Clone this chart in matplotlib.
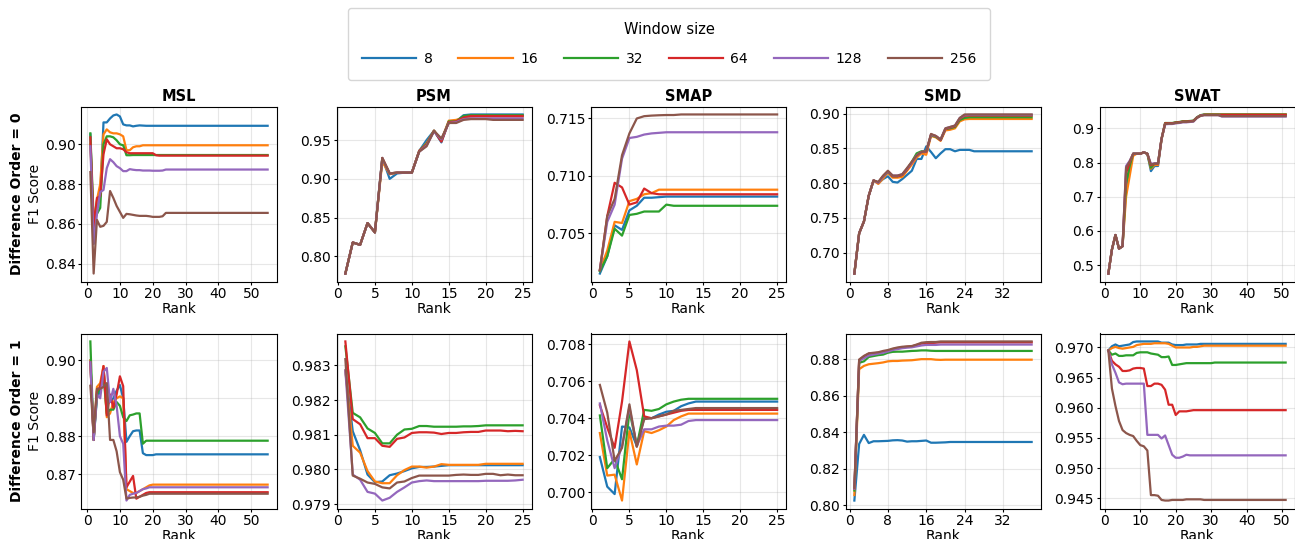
import matplotlib
matplotlib.use("Agg")
import matplotlib.pyplot as plt
from matplotlib.ticker import MultipleLocator
from matplotlib.lines import Line2D

window_sizes = ["8", "16", "32", "64", "128", "256"]
datasets = ["MSL", "PSM", "SMAP", "SMD", "SWAT"]
colors = ["#1f77b4", "#ff7f0e", "#2ca02c", "#d62728", "#9467bd", "#8c564b"]

# ---------------- Difference order 0 ----------------
msl0_8 = [0.905, 0.850, 0.868, 0.874, 0.911, 0.911, 0.913, 0.9145, 0.915, 0.914,
          0.910, 0.9095, 0.9095, 0.909, 0.9093, 0.9095, 0.9094, 0.9093, 0.9093, 0.9093,
          0.9093, 0.9093, 0.9093, 0.9093, 0.9093, 0.9093, 0.9093, 0.9093, 0.9093, 0.9093,
          0.9093, 0.9093, 0.9093, 0.9093, 0.9093, 0.9093, 0.9093, 0.9093, 0.9093, 0.9093,
          0.9093, 0.9093, 0.9093, 0.9093, 0.9093, 0.9093, 0.9093, 0.9093, 0.9093, 0.9093,
          0.9093, 0.9093, 0.9093, 0.9093, 0.9093]
msl0_16 = [0.900, 0.860, 0.872, 0.880, 0.905, 0.9075, 0.906, 0.9055, 0.9055, 0.905,
           0.904, 0.897, 0.897, 0.8985, 0.899, 0.899, 0.8995, 0.8995, 0.8995, 0.8995,
           0.8995, 0.8995, 0.8995, 0.8995, 0.8995, 0.8995, 0.8995, 0.8995, 0.8995, 0.8995,
           0.8995, 0.8995, 0.8995, 0.8995, 0.8995, 0.8995, 0.8995, 0.8995, 0.8995, 0.8995,
           0.8995, 0.8995, 0.8995, 0.8995, 0.8995, 0.8995, 0.8995, 0.8995, 0.8995, 0.8995,
           0.8995, 0.8995, 0.8995, 0.8995, 0.8995]
msl0_32 = [0.9055, 0.862, 0.865, 0.868, 0.900, 0.904, 0.904, 0.9035, 0.902, 0.900,
           0.8995, 0.8945, 0.8945, 0.8946, 0.8946, 0.8946, 0.8946, 0.8946, 0.8946, 0.8946,
           0.8946, 0.8946, 0.8946, 0.8946, 0.8946, 0.8946, 0.8946, 0.8946, 0.8946, 0.8946,
           0.8946, 0.8946, 0.8946, 0.8946, 0.8946, 0.8946, 0.8946, 0.8946, 0.8946, 0.8946,
           0.8946, 0.8946, 0.8946, 0.8946, 0.8946, 0.8946, 0.8946, 0.8946, 0.8946, 0.8946,
           0.8946, 0.8946, 0.8946, 0.8946, 0.8946]
msl0_64 = [0.9035, 0.858, 0.873, 0.874, 0.895, 0.9025, 0.900, 0.899, 0.898, 0.898,
           0.8975, 0.896, 0.8955, 0.8955, 0.8955, 0.8955, 0.8955, 0.8955, 0.8955, 0.8955,
           0.8945, 0.8943, 0.8943, 0.8943, 0.8943, 0.8943, 0.8943, 0.8943, 0.8943, 0.8943,
           0.8943, 0.8943, 0.8943, 0.8943, 0.8943, 0.8943, 0.8943, 0.8943, 0.8943, 0.8943,
           0.8943, 0.8943, 0.8943, 0.8943, 0.8943, 0.8943, 0.8943, 0.8943, 0.8943, 0.8943,
           0.8943, 0.8943, 0.8943, 0.8943, 0.8943]
msl0_128 = [0.899, 0.850, 0.865, 0.876, 0.877, 0.888, 0.8925, 0.891, 0.889, 0.888,
            0.8865, 0.8865, 0.8875, 0.8872, 0.887, 0.887, 0.8868, 0.8868, 0.8868, 0.8867,
            0.8867, 0.8867, 0.8868, 0.8873, 0.8873, 0.8873, 0.8873, 0.8873, 0.8873, 0.8873,
            0.8873, 0.8873, 0.8873, 0.8873, 0.8873, 0.8873, 0.8873, 0.8873, 0.8873, 0.8873,
            0.8873, 0.8873, 0.8873, 0.8873, 0.8873, 0.8873, 0.8873, 0.8873, 0.8873, 0.8873,
            0.8873, 0.8873, 0.8873, 0.8873, 0.8873]
msl0_256 = [0.886, 0.835, 0.862, 0.8585, 0.859, 0.861, 0.8765, 0.873, 0.869, 0.866,
            0.863, 0.865, 0.8648, 0.8645, 0.8642, 0.864, 0.864, 0.864, 0.8638, 0.8635,
            0.8635, 0.8635, 0.8638, 0.8655, 0.8655, 0.8655, 0.8655, 0.8655, 0.8655, 0.8655,
            0.8655, 0.8655, 0.8655, 0.8655, 0.8655, 0.8655, 0.8655, 0.8655, 0.8655, 0.8655,
            0.8655, 0.8655, 0.8655, 0.8655, 0.8655, 0.8655, 0.8655, 0.8655, 0.8655, 0.8655,
            0.8655, 0.8655, 0.8655, 0.8655, 0.8655]

psm0_8 = [0.778, 0.818, 0.815, 0.843, 0.831, 0.927, 0.900, 0.907, 0.908, 0.908,
          0.936, 0.950, 0.962, 0.947, 0.974, 0.974, 0.982, 0.983, 0.983, 0.983,
          0.983, 0.983, 0.983, 0.983, 0.983]
psm0_16 = [0.778, 0.818, 0.815, 0.843, 0.831, 0.922, 0.906, 0.908, 0.908, 0.908,
           0.936, 0.946, 0.962, 0.950, 0.975, 0.976, 0.979, 0.980, 0.9805, 0.9805,
           0.9805, 0.9805, 0.9805, 0.9805, 0.9805]
psm0_32 = [0.778, 0.818, 0.815, 0.843, 0.831, 0.926, 0.907, 0.908, 0.908, 0.908,
           0.936, 0.945, 0.962, 0.949, 0.974, 0.974, 0.981, 0.982, 0.982, 0.982,
           0.982, 0.982, 0.982, 0.982, 0.982]
psm0_64 = [0.778, 0.818, 0.815, 0.843, 0.831, 0.927, 0.907, 0.908, 0.908, 0.908,
           0.936, 0.944, 0.962, 0.948, 0.973, 0.974, 0.979, 0.981, 0.981, 0.981,
           0.981, 0.981, 0.981, 0.981, 0.981]
psm0_128 = [0.778, 0.818, 0.815, 0.843, 0.831, 0.926, 0.907, 0.908, 0.908, 0.908,
            0.935, 0.943, 0.961, 0.951, 0.972, 0.973, 0.977, 0.978, 0.978, 0.978,
            0.978, 0.978, 0.978, 0.978, 0.978]
psm0_256 = [0.778, 0.818, 0.815, 0.843, 0.831, 0.927, 0.907, 0.908, 0.908, 0.908,
            0.935, 0.942, 0.962, 0.952, 0.972, 0.972, 0.976, 0.977, 0.977, 0.977,
            0.976, 0.976, 0.976, 0.976, 0.976]

smap0_8 = [0.7015, 0.7030, 0.7057, 0.7053, 0.7070, 0.7074, 0.7081, 0.7081, 0.70815, 0.7082,
           0.7082, 0.7082, 0.7082, 0.7082, 0.7082, 0.7082, 0.7082, 0.7082, 0.7082, 0.7082,
           0.7082, 0.7082, 0.7082, 0.7082, 0.7082]
smap0_16 = [0.7018, 0.7035, 0.7060, 0.7059, 0.7078, 0.7080, 0.7084, 0.7085, 0.7088, 0.7088,
            0.7088, 0.7088, 0.7088, 0.7088, 0.7088, 0.7088, 0.7088, 0.7088, 0.7088, 0.7088,
            0.7088, 0.7088, 0.7088, 0.7088, 0.7088]
smap0_32 = [0.7017, 0.7030, 0.7054, 0.7048, 0.7066, 0.7067, 0.7069, 0.7069, 0.7069, 0.7075,
            0.7074, 0.7074, 0.7074, 0.7074, 0.7074, 0.7074, 0.7074, 0.7074, 0.7074, 0.7074,
            0.7074, 0.7074, 0.7074, 0.7074, 0.7074]
smap0_64 = [0.7018, 0.7065, 0.7094, 0.7090, 0.7075, 0.7077, 0.7089, 0.7085, 0.7084, 0.7084,
            0.7084, 0.7084, 0.7084, 0.7084, 0.7084, 0.7084, 0.7084, 0.7084, 0.7084, 0.7084,
            0.7084, 0.7084, 0.7084, 0.7084, 0.7084]
smap0_128 = [0.7018, 0.7060, 0.7075, 0.7115, 0.7133, 0.7134, 0.7136, 0.7137, 0.71375, 0.7138,
             0.7138, 0.7138, 0.7138, 0.7138, 0.7138, 0.7138, 0.7138, 0.7138, 0.7138, 0.7138,
             0.7138, 0.7138, 0.7138, 0.7138, 0.7138]
smap0_256 = [0.7018, 0.7065, 0.7080, 0.7118, 0.7137, 0.7150, 0.7152, 0.71525, 0.71528, 0.7153,
             0.7153, 0.71535, 0.71535, 0.71535, 0.71535, 0.71535, 0.71535, 0.71535, 0.71535, 0.71535,
             0.71535, 0.71535, 0.71535, 0.71535, 0.71535]

smd0_8 = [0.670, 0.728, 0.745, 0.782, 0.804, 0.800, 0.806, 0.810, 0.802, 0.801,
          0.806, 0.812, 0.818, 0.835, 0.835, 0.853, 0.845, 0.836, 0.843, 0.849,
          0.849, 0.846, 0.848, 0.848, 0.848, 0.846, 0.846, 0.846, 0.846, 0.846,
          0.846, 0.846, 0.846, 0.846, 0.846, 0.846, 0.846, 0.846]
smd0_16 = [0.670, 0.728, 0.745, 0.782, 0.804, 0.799, 0.807, 0.815, 0.808, 0.808,
           0.809, 0.818, 0.827, 0.837, 0.843, 0.841, 0.868, 0.866, 0.861, 0.876,
           0.877, 0.879, 0.889, 0.892, 0.8925, 0.8925, 0.8925, 0.8925, 0.8925, 0.8925,
           0.8925, 0.8925, 0.8925, 0.8925, 0.8925, 0.8925, 0.8925, 0.8925]
smd0_32 = [0.670, 0.728, 0.745, 0.782, 0.804, 0.801, 0.810, 0.816, 0.810, 0.810,
           0.812, 0.820, 0.831, 0.843, 0.846, 0.846, 0.869, 0.867, 0.862, 0.878,
           0.879, 0.881, 0.891, 0.894, 0.895, 0.895, 0.895, 0.895, 0.895, 0.895,
           0.895, 0.895, 0.895, 0.895, 0.895, 0.895, 0.895, 0.895]
smd0_64 = [0.670, 0.728, 0.745, 0.782, 0.804, 0.801, 0.810, 0.817, 0.810, 0.810,
           0.812, 0.820, 0.830, 0.840, 0.845, 0.845, 0.870, 0.868, 0.862, 0.878,
           0.880, 0.882, 0.893, 0.897, 0.8975, 0.8975, 0.8975, 0.8975, 0.8975, 0.8975,
           0.8975, 0.8975, 0.8975, 0.8975, 0.8975, 0.8975, 0.8975, 0.8975]
smd0_128 = [0.670, 0.728, 0.745, 0.782, 0.804, 0.801, 0.810, 0.817, 0.811, 0.811,
            0.813, 0.821, 0.830, 0.840, 0.845, 0.846, 0.870, 0.868, 0.863, 0.879,
            0.881, 0.883, 0.894, 0.898, 0.8985, 0.8985, 0.8985, 0.8985, 0.8985, 0.8985,
            0.8985, 0.8985, 0.8985, 0.8985, 0.8985, 0.8985, 0.8985, 0.8985]
smd0_256 = [0.670, 0.728, 0.745, 0.782, 0.804, 0.802, 0.811, 0.818, 0.811, 0.811,
            0.813, 0.822, 0.831, 0.840, 0.845, 0.846, 0.871, 0.868, 0.863, 0.879,
            0.881, 0.883, 0.894, 0.899, 0.899, 0.899, 0.899, 0.899, 0.899, 0.899,
            0.899, 0.899, 0.899, 0.899, 0.899, 0.899, 0.899, 0.899]

swat0_8 = [0.475, 0.545, 0.588, 0.548, 0.555, 0.720, 0.780, 0.826, 0.826, 0.826,
           0.830, 0.826, 0.775, 0.790, 0.790, 0.868, 0.914, 0.915, 0.915, 0.917,
           0.918, 0.920, 0.920, 0.921, 0.922, 0.932, 0.938, 0.940, 0.940, 0.940,
           0.940, 0.940, 0.938, 0.938, 0.938, 0.938, 0.938, 0.938, 0.938, 0.938,
           0.938, 0.938, 0.938, 0.938, 0.938, 0.938, 0.938, 0.938, 0.938, 0.938,
           0.938]
swat0_16 = [0.475, 0.545, 0.588, 0.548, 0.555, 0.700, 0.760, 0.820, 0.826, 0.826,
            0.830, 0.826, 0.782, 0.793, 0.793, 0.868, 0.914, 0.915, 0.915, 0.917,
            0.918, 0.920, 0.920, 0.921, 0.922, 0.932, 0.938, 0.940, 0.941, 0.941,
            0.941, 0.941, 0.941, 0.941, 0.941, 0.941, 0.941, 0.941, 0.941, 0.941,
            0.941, 0.941, 0.941, 0.941, 0.941, 0.941, 0.941, 0.941, 0.941, 0.941,
            0.941]
swat0_32 = [0.475, 0.545, 0.588, 0.548, 0.555, 0.740, 0.790, 0.826, 0.826, 0.826,
            0.830, 0.826, 0.785, 0.797, 0.798, 0.870, 0.916, 0.916, 0.916, 0.918,
            0.919, 0.921, 0.921, 0.922, 0.923, 0.933, 0.939, 0.941, 0.941, 0.941,
            0.941, 0.941, 0.941, 0.941, 0.941, 0.941, 0.941, 0.941, 0.941, 0.941,
            0.941, 0.941, 0.941, 0.941, 0.941, 0.941, 0.941, 0.941, 0.941, 0.941,
            0.941]
swat0_64 = [0.475, 0.545, 0.588, 0.548, 0.555, 0.770, 0.800, 0.826, 0.826, 0.826,
            0.830, 0.826, 0.792, 0.796, 0.797, 0.870, 0.915, 0.915, 0.915, 0.917,
            0.918, 0.920, 0.920, 0.921, 0.922, 0.932, 0.938, 0.940, 0.940, 0.940,
            0.940, 0.940, 0.940, 0.940, 0.940, 0.940, 0.940, 0.940, 0.940, 0.940,
            0.940, 0.940, 0.940, 0.940, 0.940, 0.940, 0.940, 0.940, 0.940, 0.940,
            0.940]
swat0_128 = [0.475, 0.545, 0.588, 0.548, 0.555, 0.790, 0.805, 0.826, 0.826, 0.826,
             0.830, 0.826, 0.796, 0.798, 0.798, 0.870, 0.912, 0.913, 0.913, 0.915,
             0.916, 0.918, 0.918, 0.919, 0.920, 0.931, 0.937, 0.939, 0.939, 0.939,
             0.939, 0.939, 0.935, 0.935, 0.935, 0.935, 0.935, 0.935, 0.935, 0.935,
             0.935, 0.935, 0.935, 0.935, 0.935, 0.935, 0.935, 0.935, 0.935, 0.935,
             0.935]
swat0_256 = [0.475, 0.545, 0.588, 0.548, 0.555, 0.785, 0.803, 0.826, 0.826, 0.826,
             0.830, 0.826, 0.794, 0.797, 0.797, 0.870, 0.913, 0.914, 0.914, 0.916,
             0.917, 0.919, 0.919, 0.920, 0.921, 0.931, 0.937, 0.939, 0.939, 0.939,
             0.939, 0.939, 0.936, 0.936, 0.936, 0.936, 0.936, 0.936, 0.936, 0.936,
             0.936, 0.936, 0.936, 0.936, 0.936, 0.936, 0.936, 0.936, 0.936, 0.936,
             0.936]

# ---------------- Difference order 1 ----------------
msl1_8 = [0.900, 0.879, 0.890, 0.892, 0.8975, 0.889, 0.889, 0.890, 0.892, 0.8935,
          0.890, 0.8785, 0.880, 0.8813, 0.8815, 0.8815, 0.8755, 0.875, 0.875, 0.875,
          0.8752, 0.8752, 0.8752, 0.8752, 0.8752, 0.8752, 0.8752, 0.8752, 0.8752, 0.8752,
          0.8752, 0.8752, 0.8752, 0.8752, 0.8752, 0.8752, 0.8752, 0.8752, 0.8752, 0.8752,
          0.8752, 0.8752, 0.8752, 0.8752, 0.8752, 0.8752, 0.8752, 0.8752, 0.8752, 0.8752,
          0.8752, 0.8752, 0.8752, 0.8752, 0.8752]
msl1_16 = [0.900, 0.879, 0.893, 0.894, 0.8985, 0.885, 0.886, 0.889, 0.890, 0.8905,
           0.890, 0.866, 0.8655, 0.865, 0.865, 0.8655, 0.866, 0.8665, 0.867, 0.8672,
           0.8672, 0.8672, 0.8672, 0.8672, 0.8672, 0.8672, 0.8672, 0.8672, 0.8672, 0.8672,
           0.8672, 0.8672, 0.8672, 0.8672, 0.8672, 0.8672, 0.8672, 0.8672, 0.8672, 0.8672,
           0.8672, 0.8672, 0.8672, 0.8672, 0.8672, 0.8672, 0.8672, 0.8672, 0.8672, 0.8672,
           0.8672, 0.8672, 0.8672, 0.8672, 0.8672]
msl1_32 = [0.905, 0.879, 0.891, 0.893, 0.896, 0.886, 0.887, 0.887, 0.889, 0.888,
           0.885, 0.884, 0.8855, 0.8857, 0.886, 0.886, 0.878, 0.8788, 0.8788, 0.8788,
           0.8788, 0.8788, 0.8788, 0.8788, 0.8788, 0.8788, 0.8788, 0.8788, 0.8788, 0.8788,
           0.8788, 0.8788, 0.8788, 0.8788, 0.8788, 0.8788, 0.8788, 0.8788, 0.8788, 0.8788,
           0.8788, 0.8788, 0.8788, 0.8788, 0.8788, 0.8788, 0.8788, 0.8788, 0.8788, 0.8788,
           0.8788, 0.8788, 0.8788, 0.8788, 0.8788]
msl1_64 = [0.8995, 0.879, 0.892, 0.893, 0.8985, 0.8855, 0.891, 0.8875, 0.891, 0.8958,
           0.8932, 0.8665, 0.868, 0.8695, 0.8635, 0.864, 0.8645, 0.865, 0.8652, 0.8652,
           0.8652, 0.8652, 0.8652, 0.8652, 0.8652, 0.8652, 0.8652, 0.8652, 0.8652, 0.8652,
           0.8652, 0.8652, 0.8652, 0.8652, 0.8652, 0.8652, 0.8652, 0.8652, 0.8652, 0.8652,
           0.8652, 0.8652, 0.8652, 0.8652, 0.8652, 0.8652, 0.8652, 0.8652, 0.8652, 0.8652,
           0.8652, 0.8652, 0.8652, 0.8652, 0.8652]
msl1_128 = [0.8995, 0.879, 0.891, 0.890, 0.897, 0.898, 0.889, 0.8925, 0.888, 0.880,
            0.878, 0.863, 0.8645, 0.8648, 0.865, 0.8655, 0.866, 0.8662, 0.8665, 0.8665,
            0.8665, 0.8665, 0.8665, 0.8665, 0.8665, 0.8665, 0.8665, 0.8665, 0.8665, 0.8665,
            0.8665, 0.8665, 0.8665, 0.8665, 0.8665, 0.8665, 0.8665, 0.8665, 0.8665, 0.8665,
            0.8665, 0.8665, 0.8665, 0.8665, 0.8665, 0.8665, 0.8665, 0.8665, 0.8665, 0.8665,
            0.8665, 0.8665, 0.8665, 0.8665, 0.8665]
msl1_256 = [0.8933, 0.881, 0.8925, 0.8925, 0.893, 0.894, 0.879, 0.879, 0.876, 0.8705,
            0.8685, 0.8635, 0.8637, 0.8638, 0.8638, 0.864, 0.8643, 0.8645, 0.8648, 0.8648,
            0.8648, 0.8648, 0.8648, 0.8648, 0.8648, 0.8648, 0.8648, 0.8648, 0.8648, 0.8648,
            0.8648, 0.8648, 0.8648, 0.8648, 0.8648, 0.8648, 0.8648, 0.8648, 0.8648, 0.8648,
            0.8648, 0.8648, 0.8648, 0.8648, 0.8648, 0.8648, 0.8648, 0.8648, 0.8648, 0.8648,
            0.8648, 0.8648, 0.8648, 0.8648, 0.8648]

psm1_8 = [0.98285, 0.98110, 0.98055, 0.97985, 0.97963, 0.97965, 0.97983, 0.97988, 0.97995, 0.98003,
          0.98007, 0.98007, 0.98008, 0.98010, 0.98012, 0.98012, 0.98012, 0.98012, 0.98012, 0.98012,
          0.98012, 0.98012, 0.98012, 0.98012, 0.98012]
psm1_16 = [0.98285, 0.98068, 0.98048, 0.97995, 0.97965, 0.97960, 0.97960, 0.97983, 0.97998, 0.98008,
           0.98008, 0.98005, 0.98008, 0.98015, 0.98013, 0.98013, 0.98013, 0.98013, 0.98013, 0.98016,
           0.98016, 0.98016, 0.98016, 0.98016, 0.98016]
psm1_32 = [0.98355, 0.98163, 0.98150, 0.98118, 0.98105, 0.98075, 0.98075, 0.98100, 0.98115, 0.98117,
           0.98125, 0.98125, 0.98123, 0.98123, 0.98123, 0.98123, 0.98124, 0.98124, 0.98125, 0.98127,
           0.98127, 0.98127, 0.98127, 0.98127, 0.98127]
psm1_64 = [0.98369, 0.98145, 0.98130, 0.98090, 0.98090, 0.98068, 0.98065, 0.98088, 0.98092, 0.98105,
           0.98107, 0.98107, 0.98106, 0.98102, 0.98105, 0.98105, 0.98107, 0.98108, 0.98108, 0.98112,
           0.98112, 0.98112, 0.98110, 0.98111, 0.98110]
psm1_128 = [0.98285, 0.97985, 0.97970, 0.97935, 0.97930, 0.97910, 0.97918, 0.97935, 0.97948, 0.97962,
            0.97966, 0.97968, 0.97966, 0.97966, 0.97966, 0.97966, 0.97966, 0.97966, 0.97966, 0.97967,
            0.97967, 0.97967, 0.97967, 0.97968, 0.97970]
psm1_256 = [0.98318, 0.97982, 0.97973, 0.97962, 0.97958, 0.97948, 0.97945, 0.97962, 0.97965, 0.97975,
            0.97982, 0.97982, 0.97982, 0.97982, 0.97982, 0.97984, 0.97985, 0.97984, 0.97984, 0.97987,
            0.97987, 0.97983, 0.97985, 0.97983, 0.97983]

smap1_8 = [0.7019, 0.7003, 0.6999, 0.70355, 0.7035, 0.7025, 0.7040, 0.7040, 0.7042, 0.70435,
           0.7044, 0.70465, 0.7048, 0.7049, 0.7049, 0.7049, 0.7049, 0.7049, 0.7049, 0.7049,
           0.7049, 0.7049, 0.7049, 0.7049, 0.7049]
smap1_16 = [0.7032, 0.7009, 0.70095, 0.69955, 0.7033, 0.7015, 0.7033, 0.7032, 0.70335, 0.70355,
            0.7039, 0.7041, 0.70425, 0.70425, 0.70425, 0.70425, 0.70425, 0.70425, 0.70425, 0.70425,
            0.70425, 0.70425, 0.70425, 0.70425, 0.70425]
smap1_32 = [0.70415, 0.7013, 0.7018, 0.7007, 0.7044, 0.7025, 0.70445, 0.7044, 0.7045, 0.70475,
            0.7049, 0.7050, 0.70505, 0.70505, 0.70505, 0.70505, 0.70505, 0.70505, 0.70505, 0.70505,
            0.70505, 0.70505, 0.70505, 0.70505, 0.70505]
smap1_64 = [0.7047, 0.7035, 0.7024, 0.7049, 0.70815, 0.7066, 0.7041, 0.7040, 0.7041, 0.7042,
            0.7043, 0.7044, 0.70445, 0.70445, 0.70445, 0.70445, 0.70445, 0.70445, 0.70445, 0.70445,
            0.70445, 0.70445, 0.70445, 0.70445, 0.70445]
smap1_128 = [0.7048, 0.7028, 0.7013, 0.7025, 0.7046, 0.7025, 0.7034, 0.7034, 0.70355, 0.7036,
             0.7036, 0.70365, 0.70385, 0.7039, 0.7039, 0.7039, 0.7039, 0.7039, 0.7039, 0.7039,
             0.7039, 0.7039, 0.7039, 0.7039, 0.7039]
smap1_256 = [0.7058, 0.7043, 0.7017, 0.7024, 0.70475, 0.70245, 0.70395, 0.7040, 0.7041, 0.7042,
             0.7044, 0.70445, 0.7045, 0.70455, 0.70455, 0.70455, 0.70455, 0.70455, 0.70455, 0.70455,
             0.70455, 0.70455, 0.70455, 0.70455, 0.70455]

smd1_8 = [0.8025, 0.8335, 0.8385, 0.8340, 0.8350, 0.8350, 0.8351, 0.8352, 0.8355, 0.8356,
          0.8354, 0.8348, 0.8350, 0.8350, 0.8352, 0.8354, 0.8342, 0.8342, 0.8343, 0.8344,
          0.8346, 0.8346, 0.8346, 0.8346, 0.8346, 0.8346, 0.8346, 0.8346, 0.8346, 0.8346,
          0.8346, 0.8346, 0.8346, 0.8346, 0.8346, 0.8346, 0.8346, 0.8346]
smd1_16 = [0.8055, 0.8745, 0.8763, 0.8772, 0.8775, 0.8778, 0.8782, 0.8788, 0.8790, 0.8790,
           0.8792, 0.8793, 0.8794, 0.8797, 0.8800, 0.8800, 0.8800, 0.8797, 0.8796, 0.8797,
           0.8797, 0.8797, 0.8797, 0.8797, 0.8797, 0.8797, 0.8797, 0.8797, 0.8797, 0.8797,
           0.8797, 0.8797, 0.8797, 0.8797, 0.8797, 0.8797, 0.8797, 0.8797]
smd1_32 = [0.8080, 0.8780, 0.8788, 0.8812, 0.8817, 0.8822, 0.8825, 0.8835, 0.8840, 0.8841,
           0.8841, 0.8843, 0.8845, 0.8846, 0.8848, 0.8848, 0.8846, 0.8845, 0.8845, 0.8845,
           0.8845, 0.8845, 0.8845, 0.8845, 0.8845, 0.8845, 0.8845, 0.8845, 0.8845, 0.8845,
           0.8845, 0.8845, 0.8845, 0.8845, 0.8845, 0.8845, 0.8845, 0.8845]
smd1_64 = [0.8090, 0.8795, 0.8815, 0.8830, 0.8832, 0.8835, 0.8840, 0.8845, 0.8855, 0.8860,
           0.8865, 0.8868, 0.8870, 0.8878, 0.8885, 0.8888, 0.8888, 0.8890, 0.8892, 0.8892,
           0.8892, 0.8892, 0.8892, 0.8892, 0.8892, 0.8892, 0.8892, 0.8892, 0.8892, 0.8892,
           0.8892, 0.8892, 0.8892, 0.8892, 0.8892, 0.8892, 0.8892, 0.8892]
smd1_128 = [0.8090, 0.8790, 0.8805, 0.8820, 0.8825, 0.8830, 0.8835, 0.8842, 0.8850, 0.8855,
            0.8860, 0.8863, 0.8865, 0.8870, 0.8875, 0.8878, 0.8878, 0.8878, 0.8880, 0.8880,
            0.8880, 0.8880, 0.8880, 0.8880, 0.8880, 0.8880, 0.8880, 0.8880, 0.8880, 0.8880,
            0.8880, 0.8880, 0.8880, 0.8880, 0.8880, 0.8880, 0.8880, 0.8880]
smd1_256 = [0.8095, 0.8798, 0.8818, 0.8832, 0.8835, 0.8838, 0.8845, 0.8850, 0.8858, 0.8864,
            0.8868, 0.8870, 0.8872, 0.8880, 0.8890, 0.8893, 0.8894, 0.8894, 0.8897, 0.8897,
            0.8897, 0.8897, 0.8897, 0.8897, 0.8897, 0.8897, 0.8897, 0.8897, 0.8897, 0.8897,
            0.8897, 0.8897, 0.8897, 0.8897, 0.8897, 0.8897, 0.8897, 0.8897]

swat1_8 = [0.9695, 0.9702, 0.9705, 0.9702, 0.9703, 0.9704, 0.9705, 0.9709, 0.9710, 0.9710,
           0.9710, 0.9710, 0.9710, 0.9710, 0.9710, 0.9708, 0.9708, 0.9708, 0.9705, 0.9704,
           0.9704, 0.9704, 0.9705, 0.9705, 0.9705, 0.9705, 0.9706, 0.9706, 0.9706, 0.9706,
           0.9706, 0.9706, 0.9706, 0.9706, 0.9706, 0.9706, 0.9706, 0.9706, 0.9706, 0.9706,
           0.9706, 0.9706, 0.9706, 0.9706, 0.9706, 0.9706, 0.9706, 0.9706, 0.9706, 0.9706,
           0.9706]
swat1_16 = [0.9695, 0.9699, 0.9701, 0.9699, 0.9698, 0.9699, 0.9700, 0.9701, 0.9704, 0.9705,
            0.9706, 0.9706, 0.9706, 0.9707, 0.9707, 0.9707, 0.9707, 0.9706, 0.9703, 0.9700,
            0.9700, 0.9700, 0.9700, 0.9700, 0.9701, 0.9701, 0.9702, 0.9703, 0.9703, 0.9703,
            0.9703, 0.9703, 0.9703, 0.9703, 0.9703, 0.9703, 0.9703, 0.9703, 0.9703, 0.9703,
            0.9703, 0.9703, 0.9703, 0.9703, 0.9703, 0.9703, 0.9703, 0.9703, 0.9703, 0.9703,
            0.9703]
swat1_32 = [0.9695, 0.9688, 0.9690, 0.9686, 0.9686, 0.9687, 0.9687, 0.9687, 0.9691, 0.9692,
            0.9692, 0.9692, 0.9690, 0.9689, 0.9688, 0.9684, 0.9684, 0.9685, 0.9671, 0.9671,
            0.9672, 0.9673, 0.9674, 0.9674, 0.9674, 0.9674, 0.9674, 0.9674, 0.9674, 0.9674,
            0.9675, 0.9675, 0.9675, 0.9675, 0.9675, 0.9675, 0.9675, 0.9675, 0.9675, 0.9675,
            0.9675, 0.9675, 0.9675, 0.9675, 0.9675, 0.9675, 0.9675, 0.9675, 0.9675, 0.9675,
            0.9675]
swat1_64 = [0.9695, 0.9678, 0.9672, 0.9668, 0.9661, 0.9661, 0.9662, 0.9665, 0.9666, 0.9666,
            0.9665, 0.9636, 0.9636, 0.9640, 0.9640, 0.9638, 0.9630, 0.9605, 0.9605, 0.9588,
            0.9594, 0.9594, 0.9594, 0.9595, 0.9596, 0.9596, 0.9596, 0.9596, 0.9596, 0.9596,
            0.9596, 0.9596, 0.9596, 0.9596, 0.9596, 0.9596, 0.9596, 0.9596, 0.9596, 0.9596,
            0.9596, 0.9596, 0.9596, 0.9596, 0.9596, 0.9596, 0.9596, 0.9596, 0.9596, 0.9596,
            0.9596]
swat1_128 = [0.9695, 0.9672, 0.9658, 0.9642, 0.9639, 0.9640, 0.9640, 0.9640, 0.9640, 0.9640,
             0.9640, 0.9555, 0.9555, 0.9555, 0.9555, 0.9549, 0.9554, 0.9538, 0.9522, 0.9517,
             0.9517, 0.9519, 0.9522, 0.9521, 0.9521, 0.9521, 0.9521, 0.9521, 0.9521, 0.9521,
             0.9521, 0.9521, 0.9521, 0.9521, 0.9521, 0.9521, 0.9521, 0.9521, 0.9521, 0.9521,
             0.9521, 0.9521, 0.9521, 0.9521, 0.9521, 0.9521, 0.9521, 0.9521, 0.9521, 0.9521,
             0.9521]
swat1_256 = [0.9695, 0.9632, 0.9603, 0.9578, 0.9563, 0.9558, 0.9555, 0.9553, 0.9545, 0.9538,
             0.9536, 0.9529, 0.9455, 0.9455, 0.9454, 0.9447, 0.9446, 0.9446, 0.9447, 0.9447,
             0.9447, 0.9447, 0.9448, 0.9448, 0.9448, 0.9448, 0.9448, 0.9447, 0.9447, 0.9447,
             0.9447, 0.9447, 0.9447, 0.9447, 0.9447, 0.9447, 0.9447, 0.9447, 0.9447, 0.9447,
             0.9447, 0.9447, 0.9447, 0.9447, 0.9447, 0.9447, 0.9447, 0.9447, 0.9447, 0.9447,
             0.9447]

series = {
    (0, "MSL"): [msl0_8, msl0_16, msl0_32, msl0_64, msl0_128, msl0_256],
    (0, "PSM"): [psm0_8, psm0_16, psm0_32, psm0_64, psm0_128, psm0_256],
    (0, "SMAP"): [smap0_8, smap0_16, smap0_32, smap0_64, smap0_128, smap0_256],
    (0, "SMD"): [smd0_8, smd0_16, smd0_32, smd0_64, smd0_128, smd0_256],
    (0, "SWAT"): [swat0_8, swat0_16, swat0_32, swat0_64, swat0_128, swat0_256],
    (1, "MSL"): [msl1_8, msl1_16, msl1_32, msl1_64, msl1_128, msl1_256],
    (1, "PSM"): [psm1_8, psm1_16, psm1_32, psm1_64, psm1_128, psm1_256],
    (1, "SMAP"): [smap1_8, smap1_16, smap1_32, smap1_64, smap1_128, smap1_256],
    (1, "SMD"): [smd1_8, smd1_16, smd1_32, smd1_64, smd1_128, smd1_256],
    (1, "SWAT"): [swat1_8, swat1_16, swat1_32, swat1_64, swat1_128, swat1_256],
}

x_steps = {"MSL": 10, "PSM": 5, "SMAP": 5, "SMD": 8, "SWAT": 10}
y_steps = {
    (0, "MSL"): 0.02, (0, "PSM"): 0.05, (0, "SMAP"): 0.005, (0, "SMD"): 0.05, (0, "SWAT"): 0.1,
    (1, "MSL"): 0.01, (1, "PSM"): 0.001, (1, "SMAP"): 0.002, (1, "SMD"): 0.02, (1, "SWAT"): 0.005,
}

plt.rcParams["font.family"] = ["DejaVu Sans"]
plt.rcParams["axes.formatter.useoffset"] = False

W, H = 1295, 539
fig = plt.figure(figsize=(W / 100, H / 100), dpi=100)

lefts = [81.5, 336.5, 591, 845.5, 1099.5]
tops = [106.5, 333.5]
aw, ah = 195, 175

for r in range(2):
    for c, name in enumerate(datasets):
        l, t = lefts[c], tops[r]
        ax = fig.add_axes([l / W, 1 - (t + ah) / H, aw / W, ah / H])
        for ys, col, lab in zip(series[(r, name)], colors, window_sizes):
            ax.plot(range(1, len(ys) + 1), ys, color=col, lw=1.6, label=lab)
        ax.xaxis.set_major_locator(MultipleLocator(x_steps[name]))
        ax.yaxis.set_major_locator(MultipleLocator(y_steps[(r, name)]))
        ax.grid(True, color="#b0b0b0", alpha=0.3, lw=0.8)
        ax.tick_params(labelsize=10, length=2.5, pad=1.5)
        ax.set_xlabel("Rank", fontsize=10, labelpad=1)
        if r == 0:
            ax.set_title(name, fontsize=10.5, fontweight="bold", pad=4)
        if c == 0:
            ax.set_ylabel("F1 Score", fontsize=10, labelpad=2)
        ax.set_xlim(auto=True)

fig.text(17 / W, 1 - 194 / H, "Difference Order = 0", rotation=90, fontsize=10,
         fontweight="bold", ha="center", va="center")
fig.text(17 / W, 1 - 421 / H, "Difference Order = 1", rotation=90, fontsize=10,
         fontweight="bold", ha="center", va="center")

handles = [Line2D([], [], color=col, lw=1.6) for col in colors]
fig.legend(handles, window_sizes, loc="upper center",
           bbox_to_anchor=(669 / W, 1 - 8 / H), ncol=6, fontsize=10,
           title="Window size", title_fontsize=10.5, handlelength=3.9,
           handletextpad=0.55, columnspacing=1.85, borderpad=1.0,
           labelspacing=1.1, borderaxespad=0, frameon=True)

fig.savefig("out.png", dpi=100)
